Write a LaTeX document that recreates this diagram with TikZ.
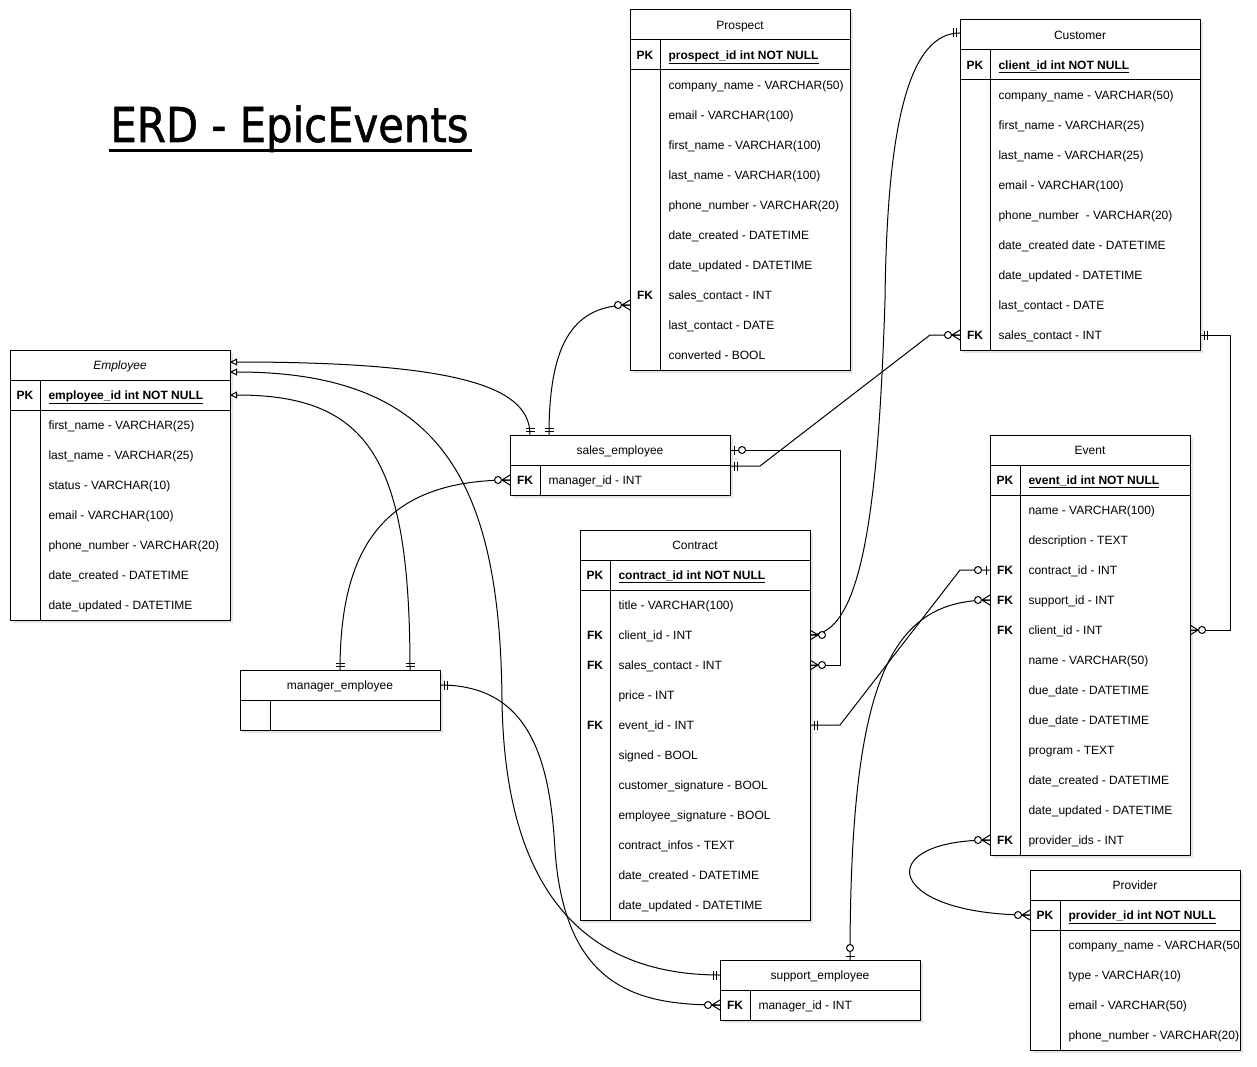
\documentclass[tikz,border=0pt]{standalone}
\usepackage{fontspec}
\setmainfont{Liberation Sans}
\newfontfamily\titlefont[FakeBold=1.2]{DejaVu Sans}
\usetikzlibrary{arrows.meta,shadows}
\newcommand\ermone[2]{\begin{scope}[shift={(#1)},rotate=#2]\draw (4,-4.5)--(4,4.5) (7,-4.5)--(7,4.5);\end{scope}}
\newcommand\ermany[2]{\begin{scope}[shift={(#1)},rotate=#2]\draw (0,-5)--(8,0)--(0,5) (0,0)--(8,0);\draw[fill=white] (12,0) circle[radius=3.5];\end{scope}}
\newcommand\erzone[2]{\begin{scope}[shift={(#1)},rotate=#2]\draw (4,-4.5)--(4,4.5);\draw[fill=white] (12,0) circle[radius=3.5];\end{scope}}
\begin{document}
\begin{tikzpicture}[x=1pt,y=-1pt,line width=1pt,font=\fontsize{12}{14}\selectfont,
  tbl/.style={draw,fill=white,drop shadow={shadow xshift=2.5pt,shadow yshift=-2.5pt,opacity=0.2,fill=gray}},
  row/.style={anchor=base west,inner sep=0pt},
  hdr/.style={anchor=base,inner sep=0pt},
  keyl/.style={inner sep=0pt,font=\fontsize{12}{14}\selectfont\bfseries},
  opentri/.style={{Triangle[open,length=7pt,width=7pt]}-}]
\useasboundingbox (0,0) rectangle (1257,1067);
\fill[white] (0,0) rectangle (1257,1067);

% title
\node[anchor=base west,inner sep=0pt] (title) at (110,142) {\scalebox{0.87}[1]{\titlefont\fontsize{48}{50}\selectfont ERD - EpicEvents}};
\draw[line width=3pt] (109,151)--(472,151);

% ---------- Employee ----------
\draw[tbl] (10,350) rectangle (230,620);
\draw (10,380)--(230,380) (10,410)--(230,410) (40,380)--(40,620);
\node[hdr] (empT) at (120,369.3) {\itshape Employee};
\node[keyl] (empPK) at (25,395) {PK};
\node[row] (empPKf) at (48,399.3) {\bfseries\underline{employee\_id int NOT NULL}};
\foreach \t [count=\i from 0] in {first\_name - VARCHAR(25),last\_name - VARCHAR(25),status - VARCHAR(10),email - VARCHAR(100),phone\_number - VARCHAR(20),date\_created - DATETIME,date\_updated - DATETIME}
  \node[row] (emp-\i) at (48,429.3+30*\i) {\t};

% ---------- Prospect ----------
\draw[tbl] (630,10) rectangle (850,370);
\draw (630,40)--(850,40) (630,70)--(850,70) (660,40)--(660,370);
\node[hdr] (prT) at (740,29.3) {Prospect};
\node[keyl] (prPK) at (645,55) {PK};
\node[row] (prPKf) at (668,59.3) {\bfseries\underline{prospect\_id int NOT NULL}};
\foreach \t [count=\i from 0] in {company\_name - VARCHAR(50),email - VARCHAR(100),first\_name - VARCHAR(100),last\_name - VARCHAR(100),phone\_number - VARCHAR(20),date\_created - DATETIME,date\_updated - DATETIME,sales\_contact - INT,last\_contact - DATE,converted - BOOL}
  \node[row] (pr-\i) at (668,89.3+30*\i) {\t};
\node[keyl] (prFKl) at (645,295) {FK};

% ---------- Customer ----------
\draw[tbl] (960,20) rectangle (1200,350);
\draw (960,50)--(1200,50) (960,80)--(1200,80) (990,50)--(990,350);
\node[hdr] (cuT) at (1080,39.3) {Customer};
\node[keyl] (cuPK) at (975,65) {PK};
\node[row] (cuPKf) at (998,69.3) {\bfseries\underline{client\_id int NOT NULL}};
\foreach \t [count=\i from 0] in {company\_name - VARCHAR(50),first\_name - VARCHAR(25),last\_name - VARCHAR(25),email - VARCHAR(100),phone\_number\ \ - VARCHAR(20),date\_created date - DATETIME,date\_updated - DATETIME,last\_contact - DATE,sales\_contact - INT}
  \node[row] (cu-\i) at (998,99.3+30*\i) {\t};
\node[keyl] (cuFKl) at (975,335) {FK};

% ---------- sales_employee ----------
\draw[tbl] (510,435) rectangle (730,495);
\draw (510,465)--(730,465) (540,465)--(540,495);
\node[hdr] (seT) at (620,454.3) {sales\_employee};
\node[keyl] (seFK) at (525,480) {FK};
\node[row] (seFKf) at (548,484.3) {manager\_id - INT};

% ---------- Contract ----------
\draw[tbl] (580,530) rectangle (810,920);
\draw (580,560)--(810,560) (580,590)--(810,590) (610,560)--(610,920);
\node[hdr] (ctT) at (695,549.3) {Contract};
\node[keyl] (ctPK) at (595,575) {PK};
\node[row] (ctPKf) at (618,579.3) {\bfseries\underline{contract\_id int NOT NULL}};
\foreach \t [count=\i from 0] in {title - VARCHAR(100),client\_id - INT,sales\_contact - INT,price - INT,event\_id - INT,signed - BOOL,customer\_signature - BOOL,employee\_signature - BOOL,contract\_infos - TEXT,date\_created - DATETIME,date\_updated - DATETIME}
  \node[row] (ct-\i) at (618,609.3+30*\i) {\t};
\node[keyl] (ctFK1) at (595,635) {FK};
\node[keyl] (ctFK2) at (595,665) {FK};
\node[keyl] (ctFK3) at (595,725) {FK};

% ---------- Event ----------
\draw[tbl] (990,435) rectangle (1190,855);
\draw (990,465)--(1190,465) (990,495)--(1190,495) (1020,465)--(1020,855);
\node[hdr] (evT) at (1090,454.3) {Event};
\node[keyl] (evPK) at (1005,480) {PK};
\node[row] (evPKf) at (1028,484.3) {\bfseries\underline{event\_id int NOT NULL}};
\foreach \t [count=\i from 0] in {name - VARCHAR(100),description - TEXT,contract\_id - INT,support\_id - INT,client\_id - INT,name - VARCHAR(50),due\_date - DATETIME,due\_date - DATETIME,program - TEXT,date\_created - DATETIME,date\_updated - DATETIME,provider\_ids - INT}
  \node[row] (ev-\i) at (1028,514.3+30*\i) {\t};
\node[keyl] (evFK1) at (1005,570) {FK};
\node[keyl] (evFK2) at (1005,600) {FK};
\node[keyl] (evFK3) at (1005,630) {FK};
\node[keyl] (evFK4) at (1005,840) {FK};

% ---------- manager_employee ----------
\draw[tbl] (240,670) rectangle (440,730);
\draw (240,700)--(440,700) (270,700)--(270,730);
\node[hdr] (meT) at (340,689.3) {manager\_employee};

% ---------- support_employee ----------
\draw[tbl] (720,960) rectangle (920,1020);
\draw (720,990)--(920,990) (750,990)--(750,1020);
\node[hdr] (spT0) at (820,979.3) {support\_employee};
\node[keyl] (spFK) at (735,1005) {FK};
\node[row] (spFKf) at (758,1009.3) {manager\_id - INT};

% ---------- Provider ----------
\draw[tbl] (1030,870) rectangle (1240,1050);
\draw (1030,900)--(1240,900) (1030,930)--(1240,930) (1060,900)--(1060,1050);
\node[hdr] (pvT) at (1135,889.3) {Provider};
\node[keyl] (pvPKl) at (1045,915) {PK};
\node[row] (pvPKf) at (1068,919.3) {\bfseries\underline{provider\_id int NOT NULL}};
\foreach \t [count=\i from 0] in {company\_name - VARCHAR(50,type - VARCHAR(10),email - VARCHAR(50),phone\_number - VARCHAR(20)}
  \node[row] (pv-\i) at (1068,949.3+30*\i) {\t};

% ---------- connection points ----------
\coordinate (empA) at (230,362);
\coordinate (empB) at (230,372);
\coordinate (empC) at (230,395);
\coordinate (seT1) at (530,435);
\coordinate (seT2) at (549,435);
\coordinate (seR1) at (730,450);
\coordinate (seR2) at (730,466);
\coordinate (seL) at (510,480);
\coordinate (prFK) at (630,305);
\coordinate (meT1) at (340,670);
\coordinate (meT2) at (410,670);
\coordinate (meR) at (440,685);
\coordinate (spL1) at (720,975);
\coordinate (spL2) at (720,1005);
\coordinate (spT) at (850,960);
\coordinate (ctC) at (810,635);
\coordinate (ctS) at (810,665);
\coordinate (ctE) at (810,725);
\coordinate (cuH) at (960,33);
\coordinate (cuFK) at (960,335);
\coordinate (cuR) at (1200,335);
\coordinate (evC) at (990,570);
\coordinate (evS) at (990,600);
\coordinate (evCl) at (1190,630);
\coordinate (evP) at (990,840);
\coordinate (pvPK) at (1030,915);

% ---------- connectors ----------
\draw[opentri] (empA) .. controls (470,362) and (530,390) .. (seT1);
\draw[opentri] (empC) .. controls (370,395) and (410,460) .. (meT2);
\draw[opentri] (empB) .. controls (440,372) and (500,480) .. (502,700) .. controls (505,930) and (620,975) .. (spL1);
\draw (seL) .. controls (390,480) and (340,540) .. (meT1);
\draw (prFK) .. controls (575,305) and (549,340) .. (seT2);
\draw (meR) .. controls (530,685) and (550,760) .. (555,850) .. controls (565,990) and (640,1005) .. (spL2);
\draw (seR1) -- (840,450) -- (840,665) -- (ctS);
\draw (seR2) -- (760,466) -- (930,335) -- (cuFK);
\draw (cuH) .. controls (910,33) and (887,120) .. (885,300) .. controls (878,520) and (860,635) .. (ctC);
\draw (cuR) -- (1230,335) -- (1230,630) -- (evCl);
\draw (ctE) -- (840,725) -- (960,570) -- (evC);
\draw (evS) .. controls (890,600) and (850,680) .. (spT);
\draw (evP) .. controls (870,840) and (885,915) .. (pvPK);

% ---------- markers ----------
\ermone{seT1}{90}
\ermone{seT2}{90}
\ermone{meT1}{90}
\ermone{meT2}{90}
\ermone{meR}{0}
\ermone{spL1}{180}
\ermone{seR2}{0}
\ermone{ctE}{0}
\ermone{cuH}{180}
\ermone{cuR}{0}
\ermany{prFK}{180}
\ermany{seL}{180}
\ermany{spL2}{180}
\ermany{ctC}{0}
\ermany{ctS}{0}
\ermany{cuFK}{180}
\ermany{evS}{180}
\ermany{evP}{180}
\ermany{evCl}{0}
\ermany{pvPK}{180}
\erzone{seR1}{0}
\erzone{evC}{180}
\erzone{spT}{90}
\end{tikzpicture}
\end{document}
